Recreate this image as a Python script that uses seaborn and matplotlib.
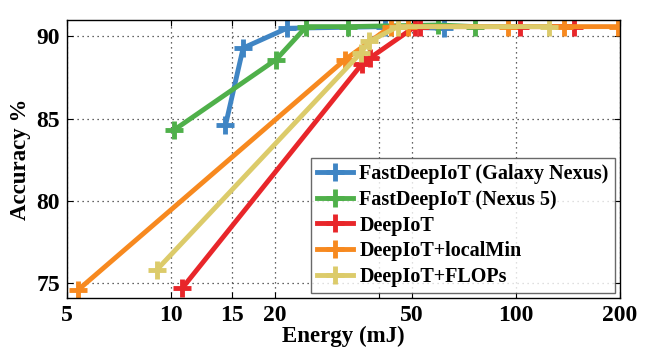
import matplotlib
matplotlib.use('Agg')
import matplotlib.pyplot as plt
import seaborn as sb
import pandas as pd
import numpy as np

#================================================
# DATA

galaxy_x = [14.4, 16.2, 21.7, 41.6, 61.9]
galaxy_y = [84.6, 89.3, 90.5, 90.6, 90.5]

nexus5_x = [10.2, 20.2, 24.7, 32.7, 59.5, 76.3]
nexus5_y = [84.3, 88.6, 90.6, 90.6, 90.7, 90.6]

deepiot_x = [10.8, 35.7, 37.8, 51.0, 52.7, 102.6, 147.0]
deepiot_y = [74.7, 88.3, 88.7, 90.6, 90.6, 90.6, 90.6]

localmin_x = [5.4, 32.0, 43.3, 48.8, 95.0, 138.0, 198.0]
localmin_y = [74.6, 88.6, 90.6, 90.6, 90.6, 90.6, 90.6]

flops_x = [9.1, 35.5, 37.6, 45.5, 124.8]
flops_y = [75.8, 89.0, 89.7, 90.6, 90.6]

series_names = ['FastDeepIoT (Galaxy Nexus)', 'FastDeepIoT (Nexus 5)',
                'DeepIoT', 'DeepIoT+localMin', 'DeepIoT+FLOPs']
series_colors = ['#3f85c4', '#4fb04a', '#e8262a', '#f7891f', '#dccb6a']

x_ticks = [5, 10, 15, 20, 40, 50, 100, 200]
x_tick_labels = ['5', '10', '15', '20', '', '50', '100', '200']
y_ticks = [75, 80, 85, 90]

#================================================
# PLOTTING

plt.rcParams['font.family'] = ['Liberation Serif', 'DejaVu Serif']
plt.rcParams['font.weight'] = 'bold'

fig = plt.figure(figsize=(6.56, 3.58), dpi=100)
ax = fig.add_axes([0.102, 0.168, 0.843, 0.776])

all_x = [galaxy_x, nexus5_x, deepiot_x, localmin_x, flops_x]
all_y = [galaxy_y, nexus5_y, deepiot_y, localmin_y, flops_y]

for name, color, xs, ys in zip(series_names, series_colors, all_x, all_y):
    df = pd.DataFrame({'Energy': xs, 'Accuracy': ys})
    sb.lineplot(data=df, x='Energy', y='Accuracy', ax=ax, color=color, label=name,
                sort=False, linewidth=3.5, marker='+', markersize=13, markeredgewidth=3.5,
                markeredgecolor=color)

ax.set_xscale('log')
ax.set_xlim(5, 200)
ax.set_ylim(74.1, 91)
ax.set_xticks(x_ticks)
ax.set_xticklabels(x_tick_labels)
ax.xaxis.set_minor_locator(matplotlib.ticker.NullLocator())
ax.set_yticks(y_ticks)
ax.tick_params(direction='in', top=True, right=True, labelsize=17, length=4, pad=5)
ax.grid(True, linestyle=(0, (1, 3)), color='#333333', linewidth=0.9)
for s in ax.spines.values():
    s.set_linewidth(1.0)

ax.set_xlabel('Energy (mJ)', fontsize=16.5, fontweight='bold', labelpad=0)
ax.set_ylabel('Accuracy %', fontsize=16.5, fontweight='bold', labelpad=4)

leg = ax.legend(loc='lower right', fontsize=14.5, frameon=True, fancybox=False,
                edgecolor='#444444', borderaxespad=0.25, handlelength=1.8,
                handletextpad=0.3, labelspacing=0.28, borderpad=0.3)
leg.get_frame().set_linewidth(1.0)

plt.savefig('out.png', dpi=100)
